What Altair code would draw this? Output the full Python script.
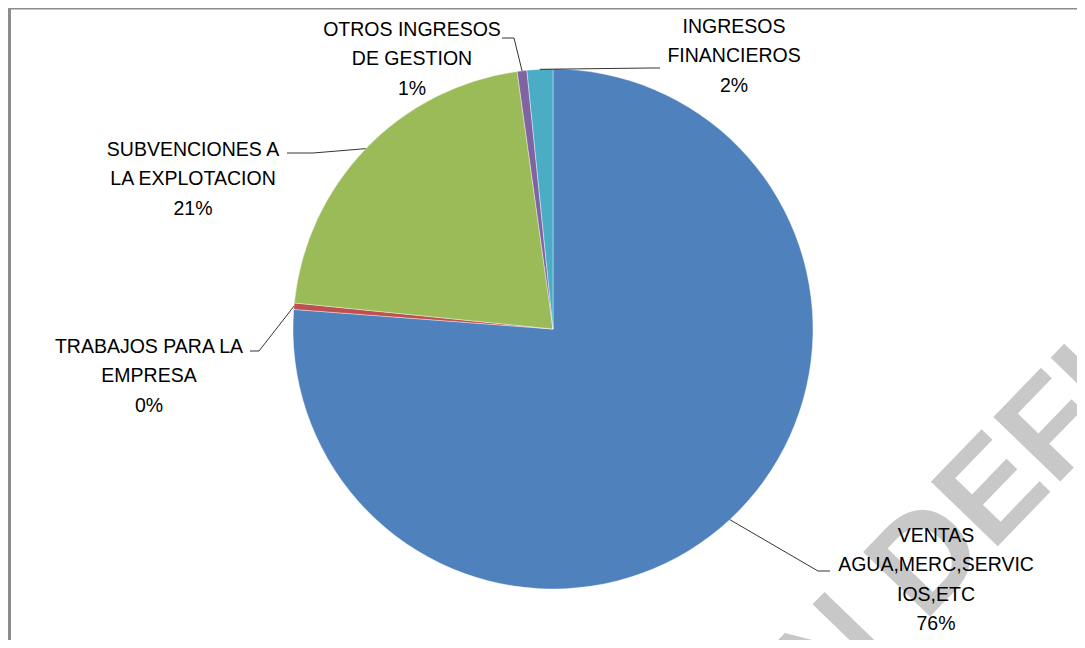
import math
import pandas as pd
import altair as alt

# ---- data ----
categories = [
    "VENTAS AGUA,MERC,SERVICIOS,ETC",
    "TRABAJOS PARA LA EMPRESA",
    "SUBVENCIONES A LA EXPLOTACION",
    "OTROS INGRESOS DE GESTION",
    "INGRESOS FINANCIEROS",
]
values = [76.2, 0.4, 21.2, 0.6, 1.6]
label_names = [
    "VENTAS\nAGUA,MERC,SERVIC\nIOS,ETC",
    "TRABAJOS PARA LA\nEMPRESA",
    "SUBVENCIONES A\nLA EXPLOTACION",
    "OTROS INGRESOS\nDE GESTION",
    "INGRESOS\nFINANCIEROS",
]
colors = ["#4F81BD", "#C0504D", "#9BBB59", "#8064A2", "#4BACC6"]
watermark_text = "N DEFINITIVA"

# ---- layout ----
W, H = 1069, 632
CX, CY, R = 545, 321, 260
FONT = "Liberation Sans"
FS = 19.5
LH = 29.3
label_anchor = [(928, 534), (141, 345), (185, 148), (404, 28), (726, 25)]
elbow = [(810, 563), (251, 343), (305, 145), (506, 30), (642, 60)]
stub_end = [(822, 563), (242, 343), (279, 145), (494, 30), (652, 60)]
WM_X, WM_Y, WM_SIZE, WM_ANGLE = 822, 712, 135, 314

total = sum(values)
pct = [f"{round(v / total * 100)}%" for v in values]

pie_df = pd.DataFrame({"idx": range(len(values)), "category": categories, "value": values})

label_df = pd.DataFrame({
    "x": [a[0] for a in label_anchor],
    "y": [a[1] for a in label_anchor],
    "text": [f"{n}\n{p}" for n, p in zip(label_names, pct)],
})

rows = []
cum = 0.0
for i, v in enumerate(values):
    mid = (cum + v / 2) / total * 2 * math.pi
    cum += v
    ex, ey = CX + R * math.sin(mid), CY - R * math.cos(mid)
    for j, (px, py) in enumerate([(ex, ey), elbow[i], stub_end[i]]):
        rows.append({"g": i, "o": j, "x": px, "y": py})
line_df = pd.DataFrame(rows)

wm_df = pd.DataFrame({"x": [WM_X], "y": [WM_Y], "t": [watermark_text]})

watermark = alt.Chart(wm_df).mark_text(
    angle=WM_ANGLE, fontSize=WM_SIZE, font=FONT, fontWeight="bold",
    color="#c8c8c8", align="left", baseline="alphabetic",
).encode(x=alt.X("x:Q", scale=None), y=alt.Y("y:Q", scale=None), text="t:N")

pie = alt.Chart(pie_df).mark_arc(outerRadius=R, stroke="#ffffff", strokeWidth=0.4).encode(
    theta=alt.Theta("value:Q", stack=True),
    color=alt.Color("category:N", scale=alt.Scale(domain=categories, range=colors), legend=None),
    order=alt.Order("idx:Q"),
    x=alt.value(CX),
    y=alt.value(CY),
)

leaders = alt.Chart(line_df).mark_line(color="#000000", strokeWidth=0.8).encode(
    x=alt.X("x:Q", scale=None),
    y=alt.Y("y:Q", scale=None),
    detail="g:N",
    order="o:Q",
)

labels = alt.Chart(label_df).mark_text(
    font=FONT, fontSize=FS, color="#000000", align="center",
    baseline="alphabetic", lineBreak="\n", lineHeight=LH,
).encode(x=alt.X("x:Q", scale=None), y=alt.Y("y:Q", scale=None), text="text:N")

frame_left = alt.Chart(pd.DataFrame({"a": [0]})).mark_rule(color="#8c8c8c", strokeWidth=3).encode(
    x=alt.value(1.5), y=alt.value(0), y2=alt.value(H)
)
frame_top = alt.Chart(pd.DataFrame({"a": [0]})).mark_rule(color="#8c8c8c", strokeWidth=2).encode(
    x=alt.value(0), x2=alt.value(W), y=alt.value(0.5)
)

chart = alt.layer(watermark, pie, leaders, labels, frame_left, frame_top).properties(
    width=W, height=H, padding=0,
    autosize=alt.AutoSizeParams(type="none"),
).configure_view(stroke=None).configure(background="#ffffff")

chart.save("out.html", embed_options={"renderer": "svg", "actions": False})
